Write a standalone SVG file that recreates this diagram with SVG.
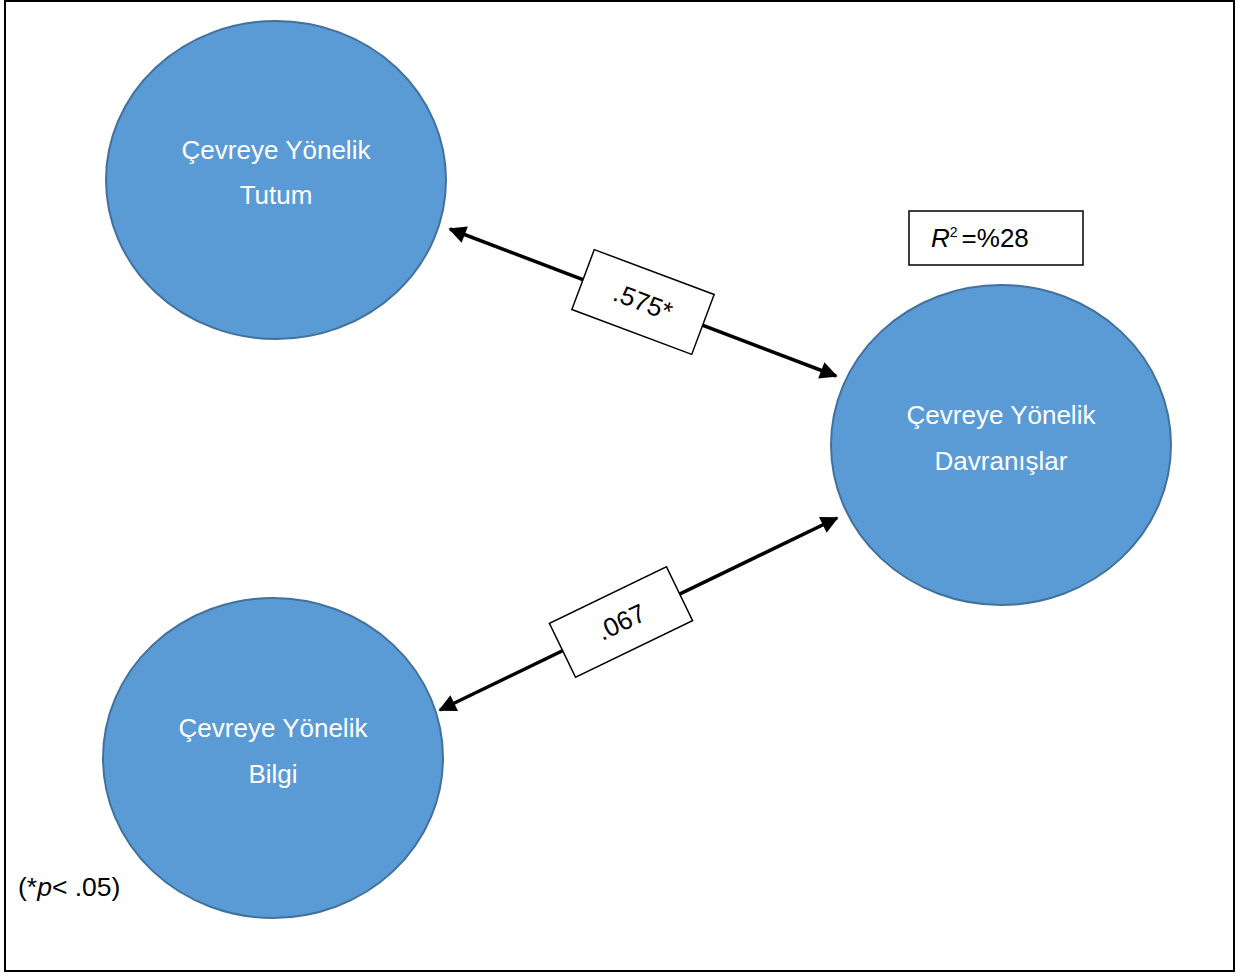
<svg xmlns="http://www.w3.org/2000/svg" width="1252" height="976" viewBox="0 0 1252 976">
<style>
.node{fill:#5B9BD5;stroke:#41719C;stroke-width:2}
.nt{font-family:"Liberation Sans",Arial,sans-serif;font-size:26px;fill:#fff;text-anchor:middle}
.lbl{fill:#fff;stroke:#000;stroke-width:1.5}
.lt{font-family:"Liberation Sans",Arial,sans-serif;font-size:26px;fill:#000;text-anchor:middle}
.conn{stroke:#000;stroke-width:3.5;fill:none}
</style>
<defs>
<marker id="ah" viewBox="0 0 10 10" refX="9" refY="5" markerWidth="5.5" markerHeight="5" orient="auto-start-reverse" markerUnits="strokeWidth">
<path d="M0,0 L10,5 L0,10 z" fill="#000"/>
</marker>
</defs>
<rect x="5" y="1" width="1229" height="970" fill="#fff" stroke="#000" stroke-width="2"/>
<g id="connectors">
<line class="conn" x1="450" y1="229" x2="836" y2="376" marker-start="url(#ah)" marker-end="url(#ah)"/>
<line class="conn" x1="440" y1="710" x2="837" y2="518" marker-start="url(#ah)" marker-end="url(#ah)"/>
<g id="label1" transform="translate(643,302) rotate(20.5)">
<rect class="lbl" x="-64" y="-32" width="128" height="64"/>
<text class="lt" x="0" y="9">.575*</text>
</g>
<g id="label2" transform="translate(621,622) rotate(-25.8)">
<rect class="lbl" x="-65" y="-30" width="130" height="60"/>
<text class="lt" x="0" y="9">.067</text>
</g>
</g>
<g id="tutum">
<ellipse class="node" cx="276" cy="180" rx="170" ry="159"/>
<text class="nt" x="276" y="159">Çevreye Yönelik</text>
<text class="nt" x="276" y="204">Tutum</text>
</g>
<g id="davranislar">
<ellipse class="node" cx="1001" cy="445" rx="170" ry="160"/>
<text class="nt" x="1001" y="424">Çevreye Yönelik</text>
<text class="nt" x="1001" y="470">Davranışlar</text>
</g>
<g id="bilgi">
<ellipse class="node" cx="273" cy="758" rx="170" ry="160"/>
<text class="nt" x="273" y="737">Çevreye Yönelik</text>
<text class="nt" x="273" y="783">Bilgi</text>
</g>
<g id="r2">
<rect x="909" y="211" width="174" height="54" fill="#fff" stroke="#000" stroke-width="1.5"/>
<text x="931" y="247" font-family="'Liberation Sans',Arial,sans-serif" font-size="26" fill="#000"><tspan font-style="italic">R</tspan><tspan font-size="14" dy="-10">2</tspan><tspan dy="10" dx="4">=%28</tspan></text>
</g>
<text id="note" x="18" y="896" font-family="'Liberation Sans',Arial,sans-serif" font-size="26.5" fill="#000">(*<tspan font-style="italic">p</tspan>&lt; .05)</text>
</svg>
